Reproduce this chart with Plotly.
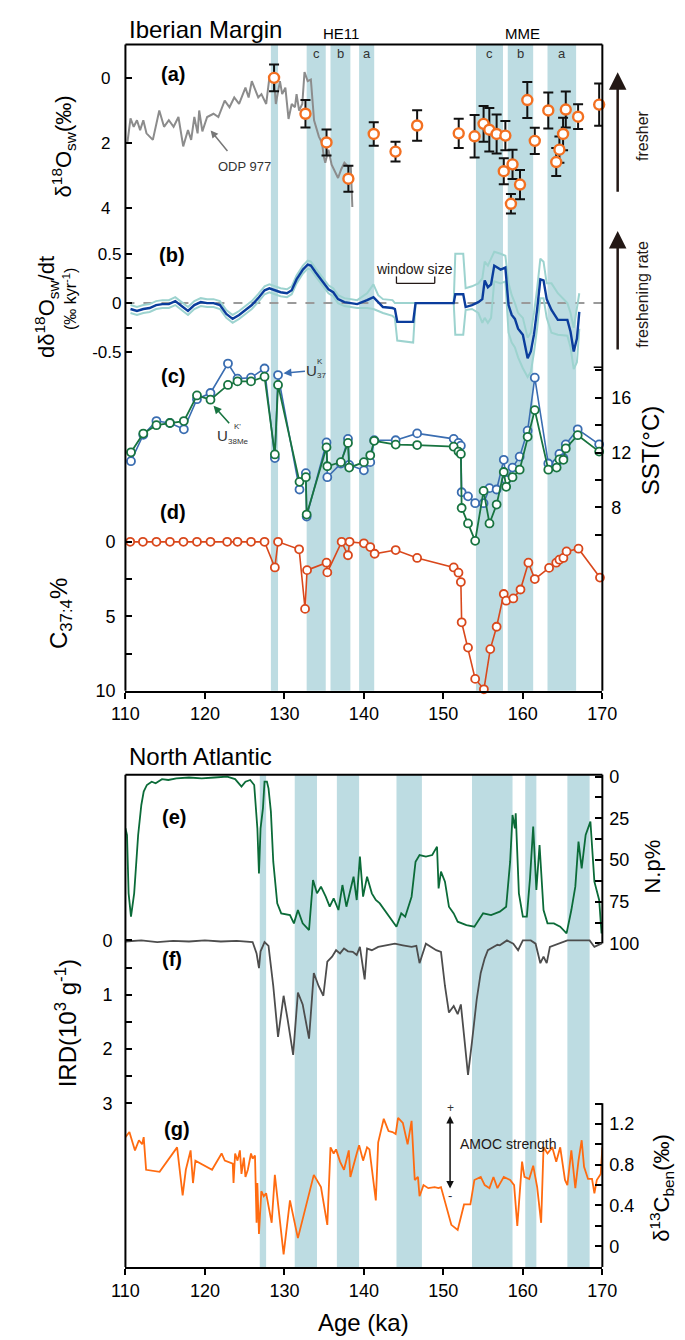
import plotly.graph_objects as go

W, H = 685, 1340
FONT = "Liberation Sans, Arial, sans-serif"

# ---------------- data ----------------
# (a) ODP 977 seawater d18O (gray line)
odp_age = [110.24, 110.64, 111.04, 111.45, 111.85, 112.25, 112.65, 113.45, 114.26, 114.86,
           115.46, 116.06, 116.67, 117.27, 117.87, 118.27, 118.67, 119.08, 119.28, 119.68,
           120.28, 121.08, 121.69, 122.49, 123.09, 123.69, 124.3, 125.1, 125.5, 125.9,
           126.71, 127.11, 127.71, 128.11, 128.71, 128.92, 129.44, 129.72, 130.12, 130.52,
           130.92, 131.33, 131.53, 131.85, 132.25, 132.53, 132.93, 133.33, 133.73, 134.34,
           134.74, 134.94, 135.14, 135.54, 135.94, 136.75, 137.15, 137.55, 137.95, 138.35, 138.55]
odp_d18o = [2.0, 1.24, 1.5, 1.3, 1.6, 1.3, 1.7, 1.9, 1.0, 1.5,
            1.3, 1.5, 1.2, 2.1, 1.6, 1.9, 1.2, 1.7, 1.0, 1.64,
            1.2, 1.1, 1.2, 0.7, 0.9, 0.6, 0.8, 0.3, 0.6, 0.1,
            0.6, 0.5, 0.8, 0.0, 0.1, 0.8, 0.1, 0.5, 0.3, 1.26,
            0.8, 0.9, 0.5, 1.0, 0.8, -0.18, 0.1, 0.05, 1.3, 1.8,
            2.0, 2.4, 2.6, 2.2, 2.66, 3.07, 2.8, 2.6, 2.7, 2.7, 3.96]

# (a) Iberian Margin d18Osw points with error bars
sw_age = [128.7, 132.65, 135.3, 138.05, 141.24, 143.98, 146.7, 151.93, 153.93, 155.06,
          155.78, 156.7, 157.6, 157.8, 158.5, 158.7, 159.64, 160.56, 161.5, 163.2,
          164.2, 164.6, 165.06, 165.4, 166.95, 169.6]
sw_d18o = [0.0, 1.1, 1.98, 3.09, 1.72, 2.26, 1.46, 1.70, 1.79, 1.41,
           1.59, 1.72, 2.86, 1.77, 3.86, 2.65, 3.27, 0.68, 1.93, 1.0,
           2.58, 2.2, 1.72, 0.97, 1.19, 0.82]
sw_err = [0.41, 0.42, 0.4, 0.4, 0.36, 0.3, 0.47, 0.45, 0.65, 0.55,
          0.67, 0.6, 0.4, 0.45, 0.3, 0.45, 0.45, 0.55, 0.4, 0.55,
          0.43, 0.4, 0.5, 0.55, 0.38, 0.65]

# (b) freshening rate and its envelope
rate_age = [110.64, 111.45, 112.25, 113.05, 113.86, 114.66, 115.46, 116.27, 117.07, 117.87,
            118.67, 119.48, 120.28, 121.08, 121.89, 122.69, 123.49, 124.3, 125.1, 125.9,
            126.7, 127.51, 128.11, 128.71, 129.52, 130.32, 130.92, 131.53, 132.33, 132.93,
            133.33, 133.94, 134.74, 135.54, 136.14, 136.75, 137.55, 138.35, 139.16, 140.4,
            141.2, 141.8, 142.4, 143.6, 143.9, 144.2, 146.2, 146.5, 151.3, 151.5,
            152.5, 152.8, 153.6, 154.4, 154.9, 155.2, 155.6, 156.0, 156.4, 157.2,
            157.8, 158.2, 158.6, 159.0, 159.4, 160.0, 160.6, 161.0, 161.4, 161.8,
            162.2, 162.6, 163.0, 163.6, 164.4, 165.6, 166.0, 166.4, 166.8, 167.1]
rate_mean = [-0.06, -0.08, -0.06, -0.05, -0.02, -0.01, -0.01, 0.02, -0.03, -0.08,
             -0.02, 0.01, 0.0, 0.0, -0.02, -0.11, -0.16, -0.12, -0.07, -0.02,
             0.05, 0.13, 0.15, 0.13, 0.11, 0.10, 0.13, 0.24, 0.34, 0.39,
             0.38, 0.31, 0.23, 0.14, 0.11, 0.04, 0.01, 0.0, -0.01, 0.03,
             0.06, 0.01, -0.04, -0.05, -0.06, -0.19, -0.19, 0.0, 0.0, 0.09,
             0.09, -0.04, -0.02, 0.01, 0.04, 0.23, 0.16, 0.19, 0.38, 0.34,
             0.36, -0.02, -0.12, -0.16, -0.26, -0.32, -0.56, -0.49, -0.32, -0.06,
             0.24, 0.23, 0.04, -0.07, -0.17, -0.17, -0.29, -0.49, -0.36, -0.09]
rate_hi = [-0.02, -0.04, -0.02, -0.01, 0.02, 0.03, 0.03, 0.06, 0.01, -0.04,
           0.02, 0.05, 0.04, 0.04, 0.02, -0.07, -0.12, -0.08, -0.03, 0.02,
           0.09, 0.17, 0.19, 0.17, 0.15, 0.14, 0.17, 0.28, 0.38, 0.43,
           0.42, 0.35, 0.27, 0.18, 0.15, 0.08, 0.05, 0.04, 0.03, 0.10,
           0.19, 0.08, 0.04, 0.03, 0.0, 0.0, 0.0, 0.0, 0.0, 0.5,
           0.5, 0.15, 0.17, 0.2, 0.25, 0.42, 0.38, 0.45, 0.52, 0.5,
           0.48, 0.2, 0.08, 0.0, -0.1, -0.15, -0.35, -0.3, -0.1, 0.15,
           0.45, 0.42, 0.2, 0.2, 0.1, 0.0, -0.1, -0.25, -0.05, 0.1]
rate_lo = [-0.10, -0.12, -0.10, -0.09, -0.06, -0.05, -0.05, -0.02, -0.07, -0.12,
           -0.06, -0.03, -0.04, -0.04, -0.06, -0.15, -0.20, -0.16, -0.11, -0.06,
           0.01, 0.09, 0.11, 0.09, 0.07, 0.06, 0.09, 0.20, 0.30, 0.35,
           0.34, 0.27, 0.19, 0.10, 0.07, 0.0, -0.03, -0.04, -0.05, -0.05,
           -0.06, -0.08, -0.1, -0.13, -0.15, -0.38, -0.4, 0.0, 0.0, -0.32,
           -0.32, -0.07, -0.06, -0.1, -0.2, -0.15, -0.2, -0.15, 0.22, 0.2,
           0.22, -0.3, -0.4, -0.45, -0.55, -0.66, -0.75, -0.7, -0.5, -0.25,
           0.05, 0.05, -0.15, -0.3, -0.32, -0.33, -0.45, -0.67, -0.6, -0.26]

# (c) SST
alk_age = [110.7, 112.25, 113.9, 115.6, 117.35, 119.0, 120.7, 122.9, 124.1, 125.8,
           127.5, 128.8, 129.2, 131.9, 132.7, 132.8, 135.3, 135.4, 137.1, 138.0,
           138.15, 140.0, 140.8, 141.3, 144.0, 146.7, 151.3, 151.9, 152.2, 152.3,
           153.1, 154.0, 155.06, 155.8, 156.7, 157.6, 157.9, 158.7, 159.6, 160.6,
           161.5, 163.2, 164.25, 164.6, 165.1, 165.4, 166.9, 169.6]
sst_u37 = [11.37, 13.3, 14.3, 14.16, 13.7, 15.9, 16.35, 18.5, 17.4, 17.47,
           18.14, 11.6, 17.66, 9.3, 10.5, 7.33, 12.74, 10.2, 11.2, 13.0,
           11.1, 10.7, 11.3, 12.9, 12.9, 13.4, 13.0, 12.7, 12.5, 9.1,
           8.8, 8.3, 8.3, 9.4, 9.3, 11.47, 10.0, 10.9, 11.7, 13.6,
           17.47, 11.2, 11.2, 11.9, 11.6, 12.6, 13.7, 12.6]
sst_u38 = [12.02, 13.39, 14.0, 14.16, 14.3, 16.17, 15.86, 16.94, 17.2, 17.2,
           17.54, 11.86, 16.94, 9.86, 10.2, 7.47, 12.38, 11.0, 11.3, 12.7,
           10.9, 11.3, 11.8, 12.86, 12.58, 12.55, 12.43, 12.07, 11.9, 7.95,
           6.82, 5.55, 9.2, 6.82, 8.2, 10.58, 9.5, 10.2, 10.75, 13.15,
           15.1, 10.75, 10.9, 11.5, 11.47, 12.3, 13.27, 12.07]

# (d) C37:4 %
c374_age = [110.6, 112.2, 113.9, 115.6, 117.3, 119.0, 120.7, 122.8, 124.1, 125.8,
            127.5, 128.8, 129.2, 131.85, 132.6, 132.85, 135.3, 135.4, 137.2, 138.0,
            138.2, 140.0, 140.8, 141.35, 144.0, 146.7, 151.3, 151.9, 152.2, 152.3,
            153.1, 154.0, 155.1, 155.9, 156.7, 157.6, 157.9, 158.8, 159.7, 160.7,
            161.5, 163.3, 164.2, 164.6, 165.1, 165.5, 167.0, 169.7]
c374 = [0, 0, 0, 0, 0, 0, 0, 0, 0, 0,
        0, 1.72, 0, 0.5, 4.5, 1.9, 1.4, 2.05, 0, 0.9,
        0, 0.1, 0.35, 0.8, 0.55, 1.08, 1.72, 2.07, 2.7, 5.4,
        7.1, 9.2, 9.9, 7.2, 5.7, 3.5, 3.95, 3.8, 3.2, 1.4,
        2.5, 1.75, 1.4, 1.2, 1.08, 0.64, 0.46, 2.4]

# (e) N. pachyderma %
np_age = [110.0, 110.2, 110.4, 110.7, 111.1, 111.3, 111.6, 112.0, 112.3, 112.7,
          113.3, 113.8, 114.6, 115.4, 116.4, 118.0, 119.6, 121.2, 122.8, 123.8,
          124.6, 125.1, 125.7, 126.2, 126.6, 126.8, 127.0, 127.3, 127.5, 127.8,
          128.0, 128.3, 128.6, 129.1, 129.6, 130.7, 131.2, 131.7, 132.3, 133.1,
          133.6, 134.1, 134.6, 135.2, 135.7, 136.2, 136.8, 137.3, 137.8, 138.3,
          138.7, 139.1, 139.5, 139.9, 140.4, 141.0, 141.5, 142.0, 142.6, 143.1,
          143.6, 144.1, 144.7, 145.2, 146.0, 146.5, 147.0, 147.8, 148.6, 149.2,
          149.4, 149.7, 150.2, 150.7, 151.3, 151.8, 152.9, 153.9, 155.0, 156.0,
          157.1, 157.9, 158.4, 158.7, 159.0, 159.1, 159.5, 160.0, 160.5, 160.9,
          161.3, 161.7, 162.1, 162.6, 163.1, 163.9, 164.7, 165.5, 166.1, 166.6,
          167.0, 167.4, 167.9, 168.5, 169.0, 169.6, 169.9, 170.0]
np_pct = [31, 35, 70, 84, 70, 57, 35, 17, 9, 5,
          3, 4, 1.5, 2, 1, 0.5, 1, 0.5, 0, 1.5,
          6, 3, 2, 5, 31, 58, 31, 19, 3, 3,
          7, 21, 51, 76, 82, 83, 88, 80, 88, 92,
          62, 70, 66, 72, 78, 73, 80, 65, 78, 68,
          60, 74, 48, 72, 60, 70, 74, 76, 80, 83,
          86, 90, 82, 84, 72, 51, 47, 48, 47, 42,
          67, 57, 63, 78, 82, 87, 89, 90, 82, 83,
          81, 78, 51, 23, 31, 22, 70, 84, 84, 61,
          30, 68, 41, 80, 88, 88, 90, 94, 80, 66,
          39, 55, 35, 27, 63, 74, 94, 90]

# (f) IRD (10^3 g^-1)
ird_age = [110.0, 112.0, 114.0, 116.0, 118.0, 120.0, 122.0, 124.0, 126.0, 126.5,
           126.8, 127.0, 127.3, 127.5, 128.0, 128.6, 129.2, 129.9, 130.4, 131.1,
           131.7, 132.3, 133.1, 133.7, 134.3, 134.9, 135.4, 136.0, 136.5, 137.0,
           137.5, 138.0, 138.6, 139.1, 139.5, 140.1, 140.4, 141.0, 141.8, 142.8,
           143.9, 144.9, 146.0, 146.6, 147.0, 147.8, 149.1, 149.7, 150.2, 150.7,
           151.3, 151.8, 152.2, 152.6, 153.1, 153.6, 154.2, 154.7, 155.2, 155.6,
           156.0, 156.8, 157.1, 158.0, 158.8, 159.4, 160.0, 161.0, 161.6, 162.2,
           162.6, 163.0, 163.4, 164.4, 165.6, 166.8, 168.4, 169.0, 169.6, 170.0]
ird = [0.02, 0.0, 0.03, 0.01, 0.02, 0.0, 0.02, 0.01, 0.03, 0.24,
       0.51, 0.2, 0.1, 0.03, 0.1, 0.84, 1.78, 1.02, 1.45, 2.11,
       0.96, 1.18, 1.81, 0.6, 0.84, 1.02, 0.39, 0.3, 0.18, 0.24,
       0.15, 0.2, 0.21, 0.27, 0.12, 0.72, 0.15, 0.18, 0.12, 0.09,
       0.06, 0.09, 0.12, 0.1, 0.42, 0.06, 0.18, 0.21, 0.84, 1.33,
       1.21, 1.36, 1.18, 1.75, 2.48, 1.87, 1.08, 0.6, 0.33, 0.18,
       0.15, 0.08, 0.09, 0.0, 0.06, 0.18, 0.0, 0.0, 0.06, 0.42,
       0.3, 0.42, 0.12, 0.06, 0.0, 0.0, 0.0, 0.12, 0.08, 0.05]

# (g) benthic d13C
d13c_age = [110.0, 110.5, 111.2, 111.7, 112.1, 112.3, 112.6, 114.3, 116.5, 117.2,
            117.6, 118.2, 118.5, 118.8, 120.9, 122.1, 122.5, 123.5, 123.6, 123.8,
            124.1, 124.4, 124.6, 124.9, 125.1, 125.4, 125.8, 126.0, 126.3, 126.5,
            126.6, 126.8, 127.1, 127.4, 127.7, 128.0, 128.4, 128.8, 129.3, 129.9,
            130.7, 131.7, 133.7, 134.6, 135.4, 135.8, 136.2, 136.5, 137.0, 137.5,
            138.1, 138.3, 139.1, 139.4, 139.9, 140.4, 140.7, 141.5, 141.8, 142.5,
            143.1, 143.6, 144.0, 144.3, 144.9, 145.5, 146.0, 146.4, 146.8, 147.0,
            147.5, 148.1, 148.9, 149.4, 149.7, 149.9, 150.5, 151.0, 151.8, 152.6,
            153.4, 153.9, 154.7, 155.2, 155.8, 156.3, 156.8, 157.6, 158.4, 158.9,
            159.3, 159.9, 160.2, 160.8, 161.3, 161.8, 162.3, 162.6, 163.1, 163.7,
            164.2, 164.7, 165.3, 165.6, 166.1, 166.6, 167.0, 167.4, 167.7, 168.2,
            168.7, 169.0, 169.3, 169.8, 170.0]
d13c = [1.07, 1.12, 0.94, 1.04, 1.0, 1.07, 0.75, 0.73, 0.97, 0.5,
        0.75, 0.94, 0.62, 0.84, 0.75, 0.91, 0.84, 0.81, 0.62, 0.91,
        0.84, 0.94, 0.71, 0.87, 0.68, 0.75, 0.91, 0.86, 0.89, 0.23,
        0.62, 0.12, 0.54, 0.49, 0.52, 0.39, 0.23, 0.7, 0.33, -0.08,
        0.45, 0.08, 0.7, 0.58, 0.21, 0.97, 0.91, 0.95, 0.83, 0.75,
        0.94, 0.68, 0.91, 0.99, 0.84, 0.97, 0.95, 0.45, 1.02, 1.25,
        1.13, 1.12, 1.1, 1.26, 1.21, 1.0, 1.23, 0.65, 0.68, 0.49,
        0.6, 0.57, 0.58, 0.57, 0.58, 0.52, 0.36, 0.21, 0.16, 0.41,
        0.41, 0.65, 0.68, 0.6, 0.57, 0.68, 0.57, 0.68, 0.65, 0.6,
        0.2, 0.83, 0.68, 0.66, 0.79, 0.58, 0.23, 0.97, 0.91, 0.97,
        0.83, 0.97, 0.65, 0.6, 0.94, 0.57, 0.84, 1.04, 0.78, 0.66,
        0.66, 0.52, 0.65, 0.71, 0.97]

# shaded event intervals (ka)
iberian_bands = [(128.3, 129.2), (132.8, 135.2), (135.8, 138.3), (139.4, 141.3),
                 (154.1, 157.5), (158.1, 161.3), (163.1, 166.7)]
iberian_band_labels = [("c", 134.0), ("b", 137.05), ("a", 140.35),
                       ("c", 155.8), ("b", 159.7), ("a", 164.9)]
atlantic_bands = [(126.9, 127.7), (131.3, 134.1), (136.6, 139.4), (144.1, 147.3),
                  (153.6, 158.7), (160.3, 161.7), (165.6, 168.4)]

# ---------------- layout helpers ----------------
def PX(x):
    return x / W


def PY(y):
    return 1 - y / H


X0, X1 = 108, 606


def ycfg(top, bottom, v1, p1, v2, p2, side, anchor, tickvals, ticktext, standoff, size=17):
    s = (p2 - p1) / (v2 - v1)
    vb = v1 + (bottom - p1) / s
    vt = v1 + (top - p1) / s
    return dict(domain=[PY(bottom), PY(top)], range=[vb, vt], side=side, anchor=anchor,
                showgrid=False, zeroline=False, showline=False, ticks="inside",
                ticklen=7, tickwidth=1.5, tickcolor="black", tickvals=tickvals,
                ticktext=ticktext, tickfont=dict(size=size, color="black"),
                ticklabelstandoff=standoff)


fig = go.Figure()

# (a)
fig.add_trace(go.Scatter(x=odp_age, y=odp_d18o, mode="lines", xaxis="x", yaxis="y",
                         line=dict(color="#8c8c8c", width=2)))
fig.add_trace(go.Scatter(x=sw_age, y=sw_d18o, mode="markers", xaxis="x", yaxis="y",
                         error_y=dict(type="data", array=sw_err, color="#111111", thickness=2, width=5),
                         marker=dict(symbol="circle", size=10, color="white",
                                     line=dict(color="#f37021", width=2.4)),
                         cliponaxis=False))
# (b)
fig.add_trace(go.Scatter(x=rate_age, y=rate_hi, mode="lines", xaxis="x", yaxis="y2",
                         line=dict(color="#9dd3cf", width=2)))
fig.add_trace(go.Scatter(x=rate_age, y=rate_lo, mode="lines", xaxis="x", yaxis="y2",
                         line=dict(color="#9dd3cf", width=2)))
fig.add_trace(go.Scatter(x=rate_age, y=rate_mean, mode="lines", xaxis="x", yaxis="y2",
                         line=dict(color="#0b3d9c", width=2.4)))
# (c)
fig.add_trace(go.Scatter(x=alk_age, y=sst_u37, mode="lines+markers", xaxis="x", yaxis="y3",
                         line=dict(color="#3a6db1", width=1.6),
                         marker=dict(size=8, color="white", line=dict(color="#3a6db1", width=1.8)),
                         cliponaxis=False))
fig.add_trace(go.Scatter(x=alk_age, y=sst_u38, mode="lines+markers", xaxis="x", yaxis="y3",
                         line=dict(color="#187440", width=1.8),
                         marker=dict(size=8, color="white", line=dict(color="#187440", width=1.8)),
                         cliponaxis=False))
# (d)
fig.add_trace(go.Scatter(x=c374_age, y=c374, mode="lines+markers", xaxis="x", yaxis="y4",
                         line=dict(color="#d9481c", width=1.6),
                         marker=dict(size=8, color="white", line=dict(color="#d9481c", width=1.8)),
                         cliponaxis=False))
# (e)
fig.add_trace(go.Scatter(x=np_age, y=np_pct, mode="lines", xaxis="x2", yaxis="y5",
                         line=dict(color="#0b6b38", width=1.8)))
# (f)
fig.add_trace(go.Scatter(x=ird_age, y=ird, mode="lines", xaxis="x2", yaxis="y6",
                         line=dict(color="#4d4d4d", width=1.8)))
# (g)
fig.add_trace(go.Scatter(x=d13c_age, y=d13c, mode="lines", xaxis="x2", yaxis="y7",
                         line=dict(color="#ff6b10", width=1.8)))

xcommon = dict(domain=[PX(X0), PX(X1)], range=[110, 170], showgrid=False, zeroline=False,
               showline=True, linewidth=2, linecolor="black", ticks="outside", ticklen=6,
               tickwidth=1.5, tickcolor="black", tickvals=[110, 120, 130, 140, 150, 160, 170],
               tickfont=dict(size=18, color="black"))

layout = dict(
    width=W, height=H, autosize=False,
    margin=dict(l=0, r=0, t=0, b=0),
    paper_bgcolor="white", plot_bgcolor="rgba(0,0,0,0)",
    showlegend=False,
    font=dict(family=FONT, color="black"),
    xaxis=dict(xcommon, anchor="y4"),
    xaxis2=dict(xcommon, anchor="y7"),
    yaxis=ycfg(29, 215, 0, 62.7, 4, 195, "left", "x", [0, 2, 4], ["0", "2", "4"], 14),
    yaxis2=ycfg(190, 372, 0.5, 241, -0.5, 341, "left", "x",
                [-0.5, -0.25, 0, 0.25, 0.5], ["-0.5", "", "0", "", "0.5"], 3),
    yaxis3=ycfg(335, 560, 16, 387, 8, 498, "right", "x",
                [6, 8, 10, 12, 14, 16, 18], ["", "8", "", "12", "", "16", ""], 8, 18),
    yaxis4=ycfg(490, 684, 0, 533, 10, 684, "left", "x",
                [0, 2.5, 5, 7.5, 10], ["0", "", "5", "", "10"], 9, 18),
    yaxis5=ycfg(769, 945, 0, 771, 100, 940, "right", "x2",
                [0, 12.5, 25, 37.5, 50, 62.5, 75, 87.5, 100],
                ["0", "", "25", "", "50", "", "75", "", "100"], 6, 18),
    yaxis6=ycfg(900, 1110, 0, 937, 3, 1102, "left", "x2",
                [0, 0.5, 1, 1.5, 2, 2.5, 3], ["0", "", "1", "", "2", "", "3"], 12, 18),
    yaxis7=ycfg(1090, 1268, 0, 1247, 1.2, 1123, "right", "x2",
                [0, 0.2, 0.4, 0.6, 0.8, 1.0, 1.2, 1.4],
                ["0", "", "0.4", "", "0.8", "", "1.2", ""], 6, 18),
)

shapes = []
BAND = "#bddce2"
for a, b in iberian_bands:
    shapes.append(dict(type="rect", xref="x", yref="paper", x0=a, x1=b, y0=PY(684), y1=PY(29),
                       fillcolor=BAND, line=dict(width=0), layer="below"))
for a, b in atlantic_bands:
    shapes.append(dict(type="rect", xref="x2", yref="paper", x0=a, x1=b, y0=PY(1268), y1=PY(769),
                       fillcolor=BAND, line=dict(width=0), layer="below"))
# zero line in (b)
shapes.append(dict(type="line", xref="paper", yref="y2", x0=PX(X0), x1=PX(611), y0=0, y1=0,
                   line=dict(color="#9a9a9a", width=2, dash="dash"), layer="below"))


def seg(x0, y0, x1, y1, w=2, color="black"):
    shapes.append(dict(type="line", xref="paper", yref="paper", x0=PX(x0), x1=PX(x1),
                       y0=PY(y0), y1=PY(y1), line=dict(color=color, width=w)))


# frames
seg(X0, 29, X1, 29)
seg(X0, 29, X0, 684)
seg(X1, 29, X1, 684)
seg(597, 356, X1, 356, 1.5)
seg(X0, 769, X1, 769)
seg(X0, 769, X0, 1268)
seg(X1, 769, X1, 940)
seg(X1, 1102, X1, 1268)
# window size bracket
seg(391, 264, 391, 271, 1.3, "#231815")
seg(391, 271, 431, 271, 1.3, "#231815")
seg(431, 264, 431, 271, 1.3, "#231815")

layout["shapes"] = shapes

anns = []


def txt(text, x, y, size=14, color="black", angle=0, xanchor="center"):
    anns.append(dict(xref="paper", yref="paper", x=PX(x), y=PY(y), text=text, showarrow=False,
                     font=dict(family=FONT, size=size, color=color), textangle=angle,
                     xanchor=xanchor, yanchor="middle"))


def arrow(hx, hy, tx, ty, color, width=1.5, head=2, size=1.0, both=False):
    d = dict(xref="paper", yref="paper", x=PX(hx), y=PY(hy), ax=tx - hx, ay=ty - hy,
             axref="pixel", ayref="pixel", text="", showarrow=True, arrowhead=head,
             arrowsize=size, arrowwidth=width, arrowcolor=color)
    if both:
        d["arrowside"] = "end+start"
        d["startarrowhead"] = head
        d["startarrowsize"] = size
    anns.append(d)


txt("Iberian Margin", 110, 14, 24, xanchor="left")
txt("HE11", 333, 18, 15)
txt("MME", 523, 18, 15)
for lab, age in iberian_band_labels:
    txt(lab, X0 + (age - 110) * (X1 - X0) / 60, 38, 13, "#333333")

txt("<b>(a)</b>", 158, 59, 20)
txt("<b>(b)</b>", 157, 242, 20)
txt("<b>(c)</b>", 158, 365, 20)
txt("<b>(d)</b>", 158, 503, 20)
txt("<b>(e)</b>", 159, 812, 20)
txt("<b>(f)</b>", 157, 956, 20)
txt("<b>(g)</b>", 162, 1128, 20)

txt("ODP 977", 232, 153, 13, "#333333")
arrow(197, 116, 215, 138, "#777777", 1.5, 2, 1.0)

txt("window size", 410, 256, 14, "#231815")

txt("U", 302, 359, 15, "#333333")
txt("K", 311, 350, 8, "#333333")
txt("37", 313, 364, 8, "#333333")
arrow(273, 362, 296, 360, "#3a6db1", 1.6, 2, 1.0)

txt("U", 209, 425, 15, "#333333")
txt("K'", 225, 416, 8, "#333333")
txt("38Me", 226, 431, 8, "#333333")
arrow(200, 395, 217, 414, "#187440", 1.6, 2, 1.0)

# right side arrows
arrow(622, 57, 622, 178, "#231815", 2.5, 2, 1.4)
txt("fresher", 648, 122, 16, "#231815", -90)
arrow(622, 218, 622, 338, "#231815", 2.5, 2, 1.4)
txt("freshening rate", 648, 282, 16, "#231815", -90)

# axis titles
txt("δ<sup>18</sup>O<sub>sw</sub>(‰)", 43, 132, 22, angle=-90)
txt("dδ<sup>18</sup>O<sub>sw</sub>/dt", 25, 295, 22, angle=-90)
txt("(‰ kyr<sup>-1</sup>)", 50, 287, 16, angle=-90)
txt("SST(°C)", 656, 440, 24, angle=-90)
txt("C<sub>37:4</sub>%", 41, 606, 24, angle=-90)

txt("North Atlantic", 110, 751, 24, xanchor="left")
txt("N.p%", 658, 862, 22, angle=-90)
txt("IRD(10<sup>3</sup> g<sup>-1</sup>)", 46, 1021, 24, angle=-90)
txt("δ<sup>13</sup>C<sub>ben</sub>(‰)", 667, 1188, 22, angle=-90)
txt("Age (ka)", 357, 1324, 24)

# AMOC strength
arrow(447, 1115, 447, 1189, "#111111", 1.5, 2, 1.0, both=True)
txt("+", 447, 1107, 12, "#333333")
txt("-", 447, 1196, 13, "#333333")
txt("AMOC strength", 455, 1143, 14, "#231815", xanchor="left")

layout["annotations"] = anns
fig.update_layout(layout)

fig.write_html("out.html")
